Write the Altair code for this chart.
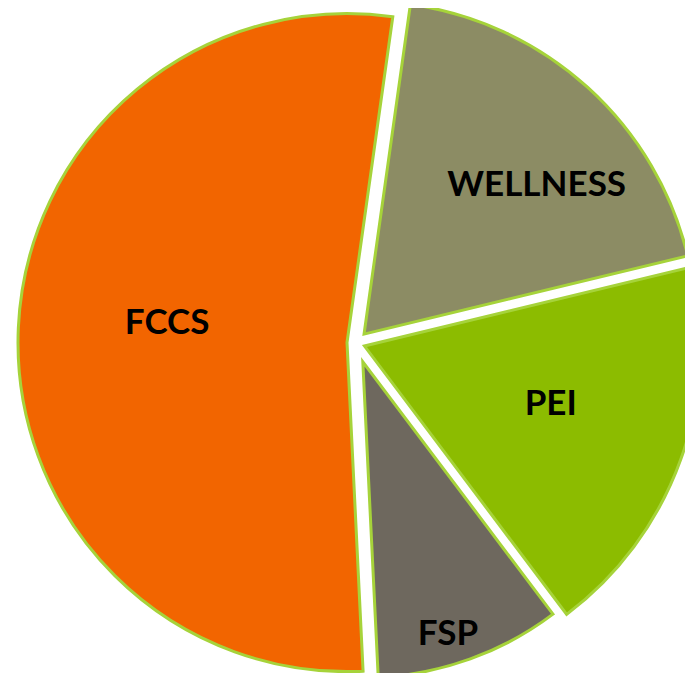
import math
import altair as alt
import pandas as pd

# ---- data ----
categories = ["WELLNESS", "PEI", "FSP", "FCCS"]
values = [19, 18.5, 9.5, 53]

# ---- styling ----
colors = ["#8C8C64", "#8CBC00", "#6E685E", "#F26500"]
explode_px = [12, 9, 20, 9]           # slice explosion (pixels)
radius_px = [333, 336, 316, 329]      # drawn radius per slice
label_radius = [228, 195, 285, 181]   # label distance from slice tip
label_dtheta = [7, -2.5, 2.5, 3.6]    # label angle nudge (degrees)

START = math.radians(8)
CX, CY = 348, 335
W, H = 677, 665

df = pd.DataFrame({
    "cat": categories,
    "value": values,
    "idx": list(range(len(categories))),
    "ex": explode_px,
    "rad": radius_px,
    "lr": label_radius,
    "ldt": label_dtheta,
})

base = (
    alt.Chart(df)
    .transform_joinaggregate(total="sum(value)")
    .transform_window(cum="sum(value)", sort=[alt.SortField("idx")], frame=[None, 0])
    .transform_calculate(
        s="(datum.cum - datum.value) / datum.total",
        e="datum.cum / datum.total",
    )
    .transform_calculate(mid=f"{START} + 2 * PI * (datum.s + datum.e) / 2")
    .transform_calculate(
        cx=f"{CX} + datum.ex * sin(datum.mid)",
        cy=f"{CY} - datum.ex * cos(datum.mid)",
    )
    .transform_calculate(
        lx="datum.cx + datum.lr * sin(datum.mid + datum.ldt * PI / 180)",
        ly="datum.cy - datum.lr * cos(datum.mid + datum.ldt * PI / 180)",
    )
)

arcs = base.mark_arc(stroke="#A6D33A", strokeWidth=3).encode(
    theta=alt.Theta("s:Q", scale=alt.Scale(domain=[0, 1], range=[START, START + 2 * math.pi]), stack=None),
    theta2="e:Q",
    radius=alt.Radius("rad:Q", scale=None),
    x=alt.X("cx:Q", scale=None, axis=None),
    y=alt.Y("cy:Q", scale=None, axis=None),
    color=alt.Color("cat:N", scale=alt.Scale(domain=categories, range=colors), legend=None),
)

labels = base.mark_text(
    font="Lato", fontWeight="bold", fontSize=35, color="#000000",
    align="center", baseline="middle",
).encode(
    x=alt.X("lx:Q", scale=None, axis=None),
    y=alt.Y("ly:Q", scale=None, axis=None),
    text="cat:N",
)

chart = (
    alt.layer(arcs, labels)
    .properties(width=W, height=H, autosize=alt.AutoSizeParams(type="none"), padding=0)
    .configure_view(stroke=None)
)

chart.save("out.html", embed_options={"renderer": "svg", "actions": False})
